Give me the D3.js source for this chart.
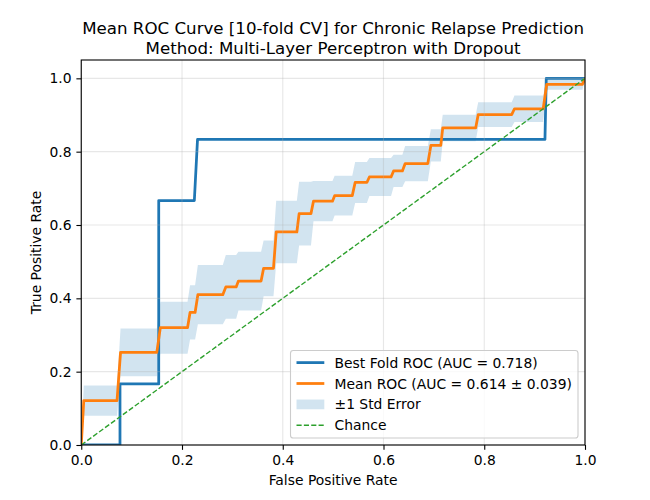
<!DOCTYPE html>
<html>
<head>
<meta charset="utf-8">
<script src="https://cdn.jsdelivr.net/npm/d3@7"></script>
<style>
  html, body { margin: 0; padding: 0; background: #fff; }
  svg { display: block; font-family: "DejaVu Sans", sans-serif; }
</style>
</head>
<body>
<svg id="chart" width="650" height="500"></svg>
<script>
// ---------- data ----------
const titleLines = ["Mean ROC Curve [10-fold CV] for Chronic Relapse Prediction",
                    "Method: Multi-Layer Perceptron with Dropout"];
const xTicks = [0.0, 0.2, 0.4, 0.6, 0.8, 1.0];
const yTicks = [0.0, 0.2, 0.4, 0.6, 0.8, 1.0];

// Best fold ROC (raw curve points)
const bestFpr = [0, 0.0769, 0.0769, 0.1538, 0.1538, 0.2245, 0.2308, 0.9205, 0.9231, 1.0];
const bestTpr = [0, 0, 0.1667, 0.1667, 0.6667, 0.6667, 0.8333, 0.8333, 1.0, 1.0];

// Mean ROC: plateau start / end (FPR), mean TPR and std error on each plateau
const meanStart = [0.005, 0.078, 0.157, 0.216, 0.2315, 0.287, 0.312, 0.362, 0.387, 0.4325, 0.461,
                   0.503, 0.5437, 0.572, 0.62, 0.643, 0.694, 0.7176, 0.788, 0.86, 0.924, 1.0];
const meanEnd   = [0.071, 0.150, 0.211, 0.226, 0.281, 0.3075, 0.357, 0.3816, 0.428, 0.456, 0.4987,
                   0.538, 0.567, 0.615, 0.6375, 0.688, 0.7137, 0.783, 0.8545, 0.917, 0.995, 1.0];
const meanTpr   = [0.121, 0.2525, 0.32, 0.3615, 0.41, 0.431, 0.447, 0.482, 0.581, 0.631, 0.665,
                   0.68, 0.716, 0.731, 0.7475, 0.7675, 0.817, 0.8647, 0.901, 0.917, 0.9837, 1.0];
const stdErr    = [0.041, 0.065, 0.071, 0.074, 0.081, 0.087, 0.08, 0.076, 0.085, 0.087, 0.055,
                   0.054, 0.056, 0.052, 0.044, 0.048, 0.044, 0.036, 0.034, 0.036, 0.015, 0];

const legendLabels = ["Best Fold ROC (AUC = 0.718)", "Mean ROC (AUC = 0.614 \u00b1 0.039)",
                      "\u00b11 Std Error", "Chance"];

// ---------- layout ----------
const W = 650, H = 500;
const m = {left: 81.25, right: 585, top: 60, bottom: 445};
const blue = "#1f77b4", orange = "#ff7f0e", green = "#2ca02c";
const fs = 13.89;

const svg = d3.select("#chart");
const x = d3.scaleLinear().domain([0, 1]).range([m.left, m.right]);
const y = d3.scaleLinear().domain([0, 1.05]).range([m.bottom, m.top]);

svg.append("defs").append("clipPath").attr("id", "clip")
  .append("rect").attr("x", m.left).attr("y", m.top)
  .attr("width", m.right - m.left).attr("height", m.bottom - m.top);

// build mean curve points
const meanPts = [{f: 0, t: 0, s: 0}];
meanStart.forEach((s, i) => {
  meanPts.push({f: s, t: meanTpr[i], s: stdErr[i]});
  if (meanEnd[i] !== s) meanPts.push({f: meanEnd[i], t: meanTpr[i], s: stdErr[i]});
});

const plot = svg.append("g").attr("clip-path", "url(#clip)");

// band
plot.append("path")
  .datum(meanPts)
  .attr("d", d3.area()
    .x(d => x(d.f))
    .y0(d => y(Math.max(0, d.t - d.s)))
    .y1(d => y(Math.min(1, d.t + d.s))))
  .attr("fill", blue).attr("fill-opacity", 0.2).attr("stroke", "none");

// grid
const grid = svg.append("g");
xTicks.forEach(v => grid.append("line")
  .attr("x1", x(v)).attr("x2", x(v)).attr("y1", m.top).attr("y2", m.bottom)
  .attr("stroke", "#b0b0b0").attr("stroke-opacity", 0.3).attr("stroke-width", 1.1));
yTicks.forEach(v => grid.append("line")
  .attr("x1", m.left).attr("x2", m.right).attr("y1", y(v)).attr("y2", y(v))
  .attr("stroke", "#b0b0b0").attr("stroke-opacity", 0.3).attr("stroke-width", 1.1));

// best fold
const bestPts = bestFpr.map((f, i) => ({f, t: bestTpr[i]}));
const line = d3.line().x(d => x(d.f)).y(d => y(d.t));
plot.append("path").datum(bestPts).attr("d", line)
  .attr("fill", "none").attr("stroke", blue).attr("stroke-width", 2.78)
  .attr("stroke-linejoin", "round").attr("stroke-linecap", "butt");

// mean
plot.append("path").datum(meanPts).attr("d", line)
  .attr("fill", "none").attr("stroke", orange).attr("stroke-width", 2.78)
  .attr("stroke-linejoin", "round");

// chance
plot.append("path").datum([{f: 0, t: 0}, {f: 1, t: 1}]).attr("d", line)
  .attr("fill", "none").attr("stroke", green).attr("stroke-width", 1.39)
  .attr("stroke-dasharray", "5.14,2.22");

// axes
const xAxis = svg.append("g").attr("transform", `translate(0,${m.bottom})`)
  .call(d3.axisBottom(x).tickValues(xTicks).tickFormat(d3.format(".1f"))
        .tickSize(4.86).tickPadding(4.86));
const yAxis = svg.append("g").attr("transform", `translate(${m.left},0)`)
  .call(d3.axisLeft(y).tickValues(yTicks).tickFormat(d3.format(".1f"))
        .tickSize(4.86).tickPadding(4.86));
[xAxis, yAxis].forEach(a => {
  a.select(".domain").remove();
  a.selectAll(".tick line").attr("stroke", "#000").attr("stroke-width", 1.1);
  a.selectAll(".tick text").attr("fill", "#000").attr("font-size", fs)
    .attr("font-family", "DejaVu Sans");
});

// spines
svg.append("rect").attr("x", m.left).attr("y", m.top)
  .attr("width", m.right - m.left).attr("height", m.bottom - m.top)
  .attr("fill", "none").attr("stroke", "#000").attr("stroke-width", 1.1);

// labels
svg.append("text").attr("x", (m.left + m.right) / 2).attr("y", 485)
  .attr("text-anchor", "middle").attr("font-size", fs).text("False Positive Rate");
svg.append("text").attr("transform", `translate(41,${(m.top + m.bottom) / 2}) rotate(-90)`)
  .attr("text-anchor", "middle").attr("font-size", fs).text("True Positive Rate");

// title
titleLines.forEach((t, i) => svg.append("text")
  .attr("x", (m.left + m.right) / 2).attr("y", 34 + i * 19.5)
  .attr("text-anchor", "middle").attr("font-size", 16.67).text(t));

// legend
const lg = svg.append("g");
lg.append("rect").attr("x", 290.5).attr("y", 350.5).attr("width", 287.5).attr("height", 87.5)
  .attr("rx", 2.8).attr("fill", "#fff").attr("fill-opacity", 0.8)
  .attr("stroke", "#cccccc").attr("stroke-width", 1.1);
const rowY = [362.6, 383.5, 404.4, 425.3];
const hx0 = 296.5, hx1 = 324.3, tx = 334.5;
lg.append("line").attr("x1", hx0).attr("x2", hx1).attr("y1", rowY[0]).attr("y2", rowY[0])
  .attr("stroke", blue).attr("stroke-width", 2.78);
lg.append("line").attr("x1", hx0).attr("x2", hx1).attr("y1", rowY[1]).attr("y2", rowY[1])
  .attr("stroke", orange).attr("stroke-width", 2.78);
lg.append("rect").attr("x", hx0).attr("y", rowY[2] - 4.86).attr("width", hx1 - hx0).attr("height", 9.72)
  .attr("fill", blue).attr("fill-opacity", 0.2);
lg.append("line").attr("x1", hx0).attr("x2", hx1).attr("y1", rowY[3]).attr("y2", rowY[3])
  .attr("stroke", green).attr("stroke-width", 1.39).attr("stroke-dasharray", "5.14,2.22");
legendLabels.forEach((t, i) => lg.append("text")
  .attr("x", tx).attr("y", rowY[i] + 5).attr("font-size", fs).text(t));
</script>
</body>
</html>
